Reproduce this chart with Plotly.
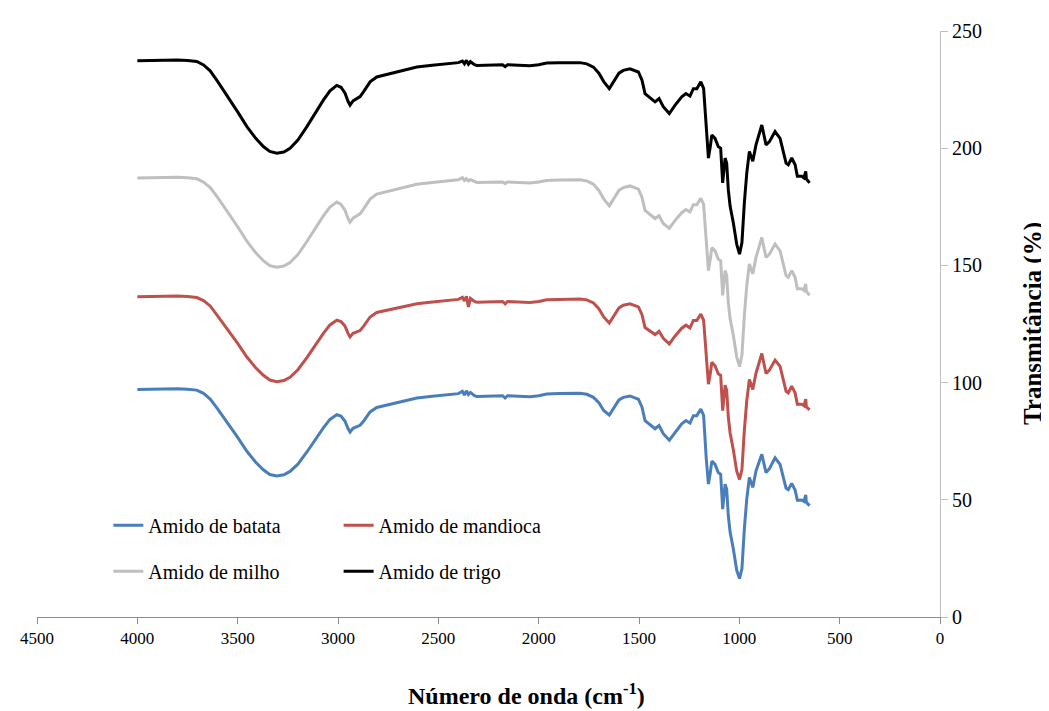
import plotly.graph_objects as go

wavenumber = [4000, 3900, 3800, 3750, 3704, 3670, 3637, 3600, 3560, 3538,
              3500, 3454, 3410, 3372, 3340, 3305, 3270, 3239, 3200, 3155,
              3110, 3073, 3040, 3006, 2985, 2965, 2950, 2940, 2925, 2906,
              2890, 2873, 2840, 2807, 2750, 2707, 2650, 2607, 2530, 2458,
              2400, 2380, 2370, 2360, 2350, 2340, 2320, 2308, 2250, 2180,
              2167, 2155, 2100, 2043, 2000, 1960, 1900, 1844, 1794, 1760,
              1727, 1700, 1675, 1648, 1625, 1600, 1578, 1545, 1503, 1485,
              1470, 1437, 1420, 1400, 1379, 1349, 1320, 1287, 1266, 1246,
              1229, 1212, 1192, 1178, 1165, 1154, 1145, 1137, 1121, 1105,
              1093, 1083, 1071, 1063, 1055, 1046, 1030, 1013, 999, 987,
              975, 963, 950, 933, 917, 888, 867, 850, 822, 797,
              767, 756, 739, 722, 711, 689, 678, 669, 666, 656,
              650]

batata = [97.1, 97.3, 97.4, 97.2, 96.8, 95.4, 93.0, 88.8, 84.1, 81.3,
          76.6, 70.7, 66.0, 62.8, 60.8, 60.2, 60.7, 62.1, 65.2, 70.4,
          76.2, 80.7, 84.3, 86.3, 85.7, 83.5, 80.4, 78.9, 80.5, 81.2,
          81.8, 83.5, 87.5, 89.4, 90.6, 91.4, 92.5, 93.4, 94.2, 94.8,
          95.3, 96.3, 94.7, 96.5, 94.9, 95.8, 94.4, 94.1, 94.3, 94.4,
          93.4, 94.4, 94.2, 94.0, 94.4, 95.1, 95.3, 95.5, 95.5, 95.0,
          93.7, 91.4, 88.0, 86.2, 89.2, 92.6, 93.7, 94.3, 92.9, 89.5,
          83.8, 81.7, 80.3, 81.7, 78.2, 75.4, 78.9, 82.4, 83.8, 82.7,
          85.9, 85.9, 88.7, 86.0, 67.8, 56.7, 61.4, 66.5, 65.1, 61.6,
          60.9, 46.0, 56.7, 54.5, 43.2, 36.2, 29.1, 19.9, 16.4, 20.6,
          37.6, 50.3, 59.5, 55.3, 62.3, 69.4, 61.6, 63.3, 67.9, 65.1,
          54.9, 54.3, 57.0, 54.2, 49.8, 49.9, 49.3, 52.1, 48.9, 48.2,
          47.5]

mandioca = [136.6, 136.8, 136.9, 136.7, 136.3, 135.0, 132.7, 128.5, 123.9, 121.2,
            116.7, 110.9, 106.3, 103.1, 101.1, 100.4, 100.9, 102.3, 105.5, 110.7,
            116.5, 121.0, 124.6, 126.6, 126.0, 124.1, 121.0, 119.5, 121.0, 121.7,
            122.2, 124.0, 128.0, 129.9, 130.9, 131.7, 132.8, 133.6, 134.4, 135.0,
            135.5, 136.4, 134.8, 136.8, 132.3, 135.9, 134.6, 134.3, 134.5, 134.6,
            133.6, 134.6, 134.4, 134.2, 134.6, 135.3, 135.5, 135.6, 135.7, 135.3,
            134.0, 131.5, 127.9, 125.4, 128.5, 131.9, 133.0, 133.6, 132.3, 129.0,
            123.5, 121.5, 120.5, 121.9, 118.9, 116.5, 119.9, 123.2, 124.5, 123.3,
            126.5, 126.5, 129.2, 126.6, 109.2, 99.3, 103.7, 108.7, 107.2, 103.8,
            103.1, 88.0, 98.9, 96.7, 85.4, 78.5, 71.4, 62.2, 58.7, 62.9,
            79.7, 92.2, 101.3, 97.1, 104.0, 112.4, 103.9, 105.3, 109.6, 106.9,
            96.3, 95.6, 98.5, 95.6, 90.8, 90.8, 90.1, 92.9, 89.7, 88.8,
            88.4]

milho = [187.3, 187.5, 187.6, 187.4, 187.0, 185.5, 183.2, 179.0, 174.2, 171.3,
         166.5, 160.3, 155.4, 152.0, 149.9, 149.2, 149.7, 151.2, 154.6, 160.2,
         166.3, 171.1, 174.9, 177.0, 176.0, 173.5, 170.0, 168.4, 170.2, 171.2,
         172.0, 174.0, 178.3, 180.4, 181.6, 182.5, 183.7, 184.6, 185.4, 186.0,
         186.5, 187.4, 186.2, 187.0, 186.1, 186.6, 185.7, 185.4, 185.5, 185.6,
         184.9, 185.6, 185.4, 185.2, 185.6, 186.2, 186.4, 186.4, 186.5, 186.0,
         184.6, 182.0, 178.3, 175.4, 178.5, 182.0, 183.2, 183.9, 182.5, 179.0,
         173.5, 171.4, 170.0, 171.2, 167.9, 165.8, 169.2, 172.5, 173.8, 172.8,
         175.9, 175.9, 178.6, 176.0, 158.0, 147.8, 152.5, 157.6, 156.2, 152.7,
         152.0, 137.2, 147.8, 145.6, 134.3, 127.3, 120.2, 111.0, 106.8, 111.7,
         128.7, 141.4, 150.6, 146.4, 153.4, 161.9, 153.4, 154.8, 159.1, 156.2,
         145.6, 144.9, 147.8, 144.9, 140.0, 140.0, 139.3, 142.1, 138.9, 137.9,
         137.2]

trigo = [237.3, 237.5, 237.6, 237.4, 237.0, 235.5, 233.0, 228.5, 223.5, 220.5,
         215.5, 209.2, 204.2, 200.7, 198.6, 197.9, 198.4, 200.0, 203.5, 209.2,
         215.5, 220.5, 224.5, 226.8, 226.0, 223.5, 220.0, 218.4, 220.2, 221.2,
         222.0, 224.0, 228.3, 230.4, 231.6, 232.5, 233.7, 234.6, 235.4, 236.0,
         236.5, 237.2, 236.0, 237.5, 235.8, 236.9, 235.6, 235.3, 235.5, 235.6,
         234.8, 235.6, 235.4, 235.2, 235.6, 236.3, 236.5, 236.4, 236.5, 236.0,
         234.6, 232.0, 228.3, 225.4, 228.5, 232.0, 233.2, 233.9, 232.5, 229.0,
         223.3, 221.2, 219.8, 221.2, 217.7, 214.8, 218.4, 221.9, 223.3, 222.2,
         225.4, 225.4, 228.3, 225.5, 207.0, 195.8, 200.5, 205.6, 204.2, 200.7,
         200.0, 185.2, 195.8, 193.6, 182.3, 175.3, 168.2, 159.0, 154.8, 159.7,
         176.7, 189.4, 198.6, 194.4, 201.4, 209.9, 201.4, 202.8, 207.1, 204.2,
         193.6, 192.9, 195.8, 192.9, 188.0, 188.0, 187.3, 190.1, 186.9, 185.9,
         185.2]

series_names = ["Amido de batata", "Amido de mandioca", "Amido de milho", "Amido de trigo"]
series_values = [batata, mandioca, milho, trigo]
series_colors = ["#4A7EBB", "#C0504D", "#BFBFBF", "#000000"]
series_legend = ["legend", "legend2", "legend", "legend2"]

x_ticks = [4500, 4000, 3500, 3000, 2500, 2000, 1500, 1000, 500, 0]
y_ticks = [0, 50, 100, 150, 200, 250]

FONT = "Liberation Serif, Times New Roman, serif"

fig = go.Figure()
for name, vals, col, lg in zip(series_names, series_values, series_colors, series_legend):
    fig.add_trace(go.Scatter(
        x=wavenumber, y=vals, mode="lines", name=name,
        line=dict(color=col, width=3), legend=lg, legendgroup=name,
    ))

legend_common = dict(
    orientation="v", xanchor="left", yanchor="top",
    font=dict(family=FONT, size=20, color="#000000"),
    bgcolor="rgba(0,0,0,0)", tracegroupgap=17, itemwidth=30,
)

# The page body adds an 8 px margin, so the figure is 8 px smaller than the window
fig.update_layout(
    width=1041, height=703,
    margin=dict(l=29, r=109, t=19, b=94),
    paper_bgcolor="white", plot_bgcolor="white",
    font=dict(family=FONT, size=18, color="#000000"),
    legend=dict(x=0.079, y=0.19, **legend_common),
    legend2=dict(x=0.334, y=0.19, **legend_common),
    xaxis=dict(
        range=[4500, 0], tickmode="array", tickvals=x_ticks,
        ticktext=[str(v) for v in x_ticks],
        showgrid=False, zeroline=False, showline=True,
        linecolor="#8C8C8C", linewidth=1,
        ticks="outside", ticklen=6, tickcolor="#8C8C8C",
        tickfont=dict(family=FONT, size=17, color="#000000"),
    ),
    yaxis=dict(
        range=[0, 250], tickmode="array", tickvals=y_ticks,
        side="right", showgrid=False, zeroline=False, showline=True,
        linecolor="#BFBFBF", linewidth=1,
        ticks="outside", ticklen=7, tickcolor="#BFBFBF",
        tickfont=dict(family=FONT, size=20, color="#000000"),
    ),
    annotations=[
        dict(text="<b>Número de onda (cm<sup>-1</sup>)</b>", xref="paper", yref="paper",
             x=0.5426, y=-0.132, xanchor="center", yanchor="middle", showarrow=False,
             font=dict(family=FONT, size=24, color="#000000")),
        dict(text="<b>Transmitância (%)</b>", xref="paper", yref="paper",
             x=1.103, y=0.5, xanchor="center", yanchor="middle", showarrow=False,
             textangle=-90, font=dict(family=FONT, size=25, color="#000000")),
    ],
)

fig.write_html("out.html")
